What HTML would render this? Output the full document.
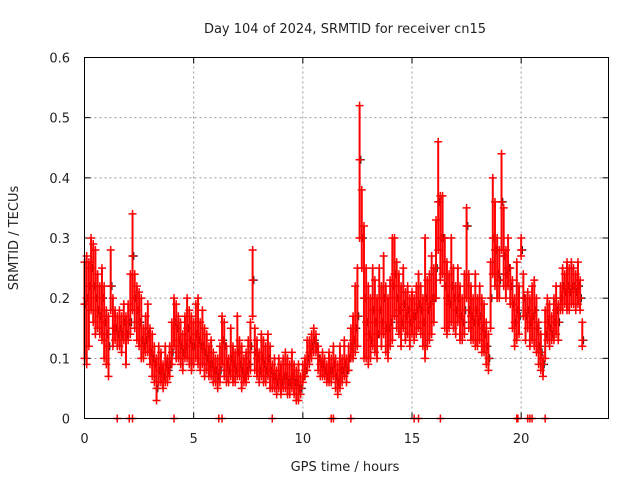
<!DOCTYPE html>
<html><head><meta charset="utf-8"><style>
body{margin:0;background:#fff;width:640px;height:480px;overflow:hidden}
svg text{font-family:"DejaVu Sans","Liberation Sans",sans-serif;font-size:13px;fill:#222}
</style></head><body>
<svg id="chart" width="640" height="480" xmlns="http://www.w3.org/2000/svg">
<text x="345" y="33" text-anchor="middle">Day 104 of 2024, SRMTID for receiver cn15</text>
<text x="345" y="471" text-anchor="middle">GPS time / hours</text>
<text transform="translate(18,238) rotate(-90)" text-anchor="middle">SRMTID / TECUs</text>
<g id="grid"></g>
<g id="ticks"></g>
<g id="marks"></g>
<rect x="84.5" y="57.5" width="524" height="361" fill="none" stroke="#000" stroke-width="1"/>
</svg>
<script>
const xTicks=[0,5,10,15,20];
const yTicks=[0,0.1,0.2,0.3,0.4,0.5,0.6];
const yTickLabels=["0","0.1","0.2","0.3","0.4","0.5","0.6"];
const times=[0,0.1,0.2,0.3,0.4,0.5,0.6,0.7,0.8,0.9,1,1.1,1.2,1.3,1.4,1.5,1.6,1.7,1.8,1.9,2,2.1,2.2,2.3,2.4,2.5,2.6,2.7,2.8,2.9,3,3.1,3.2,3.3,3.4,3.5,3.6,3.7,3.8,3.9,4,4.1,4.2,4.3,4.4,4.5,4.6,4.7,4.8,4.9,5,5.1,5.2,5.3,5.4,5.5,5.6,5.7,5.8,5.9,6,6.1,6.2,6.3,6.4,6.5,6.6,6.7,6.8,6.9,7,7.1,7.2,7.3,7.4,7.5,7.6,7.7,7.8,7.9,8,8.1,8.2,8.3,8.4,8.5,8.6,8.7,8.8,8.9,9,9.1,9.2,9.3,9.4,9.5,9.6,9.7,9.8,9.9,10,10.1,10.2,10.3,10.4,10.5,10.6,10.7,10.8,10.9,11,11.1,11.2,11.3,11.4,11.5,11.6,11.7,11.8,11.9,12,12.1,12.2,12.3,12.4,12.5,12.6,12.7,12.8,12.9,13,13.1,13.2,13.3,13.4,13.5,13.6,13.7,13.8,13.9,14,14.1,14.2,14.3,14.4,14.5,14.6,14.7,14.8,14.9,15,15.1,15.2,15.3,15.4,15.5,15.6,15.7,15.8,15.9,16,16.1,16.2,16.3,16.4,16.5,16.6,16.7,16.8,16.9,17,17.1,17.2,17.3,17.4,17.5,17.6,17.7,17.8,17.9,18,18.1,18.2,18.3,18.4,18.5,18.6,18.7,18.8,18.9,19,19.1,19.2,19.3,19.4,19.5,19.6,19.7,19.8,19.9,20,20.1,20.2,20.3,20.4,20.5,20.6,20.7,20.8,20.9,21,21.1,21.2,21.3,21.4,21.5,21.6,21.7,21.8,21.9,22,22.1,22.2,22.3,22.4,22.5,22.6,22.7,22.8];
const highs=[.26,.27,.26,.3,.29,.28,.24,.22,.25,.22,.18,.17,.28,.2,.18,.17,.18,.17,.19,.17,.19,.24,.34,.24,.22,.21,.2,.15,.17,.19,.15,.14,.12,.1,.12,.11,.09,.12,.1,.12,.16,.2,.19,.17,.16,.14,.17,.2,.18,.17,.16,.19,.2,.16,.18,.15,.14,.12,.13,.11,.1,.1,.12,.17,.16,.12,.1,.15,.12,.11,.17,.13,.12,.1,.11,.13,.16,.28,.15,.13,.11,.14,.13,.12,.14,.12,.09,.1,.08,.1,.09,.1,.11,.1,.09,.11,.09,.08,.09,.07,.09,.1,.13,.13,.14,.15,.14,.12,.1,.11,.1,.09,.11,.1,.12,.1,.09,.12,.1,.13,.1,.12,.15,.17,.22,.25,.52,.38,.32,.25,.22,.2,.25,.23,.2,.25,.22,.27,.22,.2,.23,.3,.3,.26,.24,.22,.25,.21,.22,.2,.21,.2,.22,.24,.22,.2,.3,.23,.24,.27,.25,.33,.46,.37,.37,.3,.26,.24,.3,.25,.22,.25,.22,.2,.24,.35,.24,.22,.2,.24,.2,.22,.2,.19,.16,.14,.26,.4,.36,.3,.28,.44,.35,.28,.3,.25,.23,.2,.26,.22,.3,.24,.2,.21,.2,.22,.23,.2,.16,.14,.1,.18,.2,.19,.17,.2,.22,.19,.22,.25,.24,.26,.25,.26,.25,.24,.26,.23,.16];
const mids=[.19,.2,.22,.25,.22,.2,.18,.17,.2,.16,.14,.12,.22,.15,.15,.14,.15,.14,.16,.14,.16,.16,.27,.2,.18,.16,.13,.12,.13,.14,.11,.1,.09,.05,.08,.08,.07,.09,.08,.09,.11,.16,.15,.13,.12,.11,.12,.15,.13,.12,.12,.14,.13,.12,.12,.11,.1,.09,.09,.08,.08,.07,.08,.13,.12,.09,.08,.1,.09,.08,.11,.09,.08,.07,.08,.09,.12,.23,.11,.1,.08,.1,.09,.08,.1,.08,.07,.07,.06,.07,.06,.07,.07,.06,.06,.07,.06,.06,.05,.05,.07,.08,.1,.11,.12,.13,.12,.1,.09,.09,.08,.07,.08,.08,.09,.07,.06,.08,.08,.09,.08,.1,.12,.13,.15,.17,.43,.3,.2,.16,.14,.13,.18,.16,.14,.18,.16,.2,.15,.15,.16,.22,.24,.2,.18,.16,.19,.17,.18,.16,.17,.17,.18,.19,.18,.16,.2,.18,.19,.2,.2,.25,.36,.3,.3,.22,.2,.19,.22,.2,.18,.2,.17,.16,.18,.32,.18,.17,.16,.18,.16,.17,.15,.14,.12,.1,.2,.3,.28,.24,.23,.36,.27,.24,.25,.22,.19,.16,.18,.17,.28,.2,.17,.18,.16,.17,.18,.15,.12,.11,.09,.14,.16,.15,.14,.16,.18,.16,.2,.22,.21,.22,.21,.22,.22,.21,.22,.2,.13];
const lows=[.1,.09,.12,.18,.16,.14,.15,.14,.13,.1,.09,.07,.18,.12,.13,.12,.12,.11,.13,.09,.13,.14,.18,.15,.13,.12,.1,.1,.11,.11,.09,.07,.06,.03,.06,.06,.05,.06,.06,.07,.09,.12,.1,.1,.09,.08,.1,.1,.09,.08,.09,.1,.09,.08,.09,.07,.08,.07,.07,.06,.06,.05,.06,.09,.07,.06,.06,.07,.06,.06,.07,.07,.05,.06,.06,.07,.08,.17,.08,.07,.06,.07,.06,.06,.07,.05,.05,.05,.04,.05,.04,.05,.05,.04,.04,.05,.04,.03,.03,.04,.06,.07,.08,.09,.1,.11,.11,.08,.07,.07,.07,.06,.06,.06,.07,.05,.04,.05,.06,.07,.06,.08,.1,.1,.11,.12,.3,.25,.1,.1,.09,.1,.12,.11,.1,.14,.12,.14,.11,.1,.12,.13,.17,.15,.14,.12,.15,.13,.14,.12,.14,.13,.14,.15,.14,.12,.1,.12,.13,.14,.16,.2,.28,.23,.24,.15,.14,.15,.16,.15,.14,.16,.13,.13,.14,.2,.15,.13,.13,.12,.12,.13,.11,.11,.09,.08,.15,.24,.22,.2,.2,.28,.22,.2,.22,.19,.15,.12,.13,.14,.27,.17,.13,.15,.12,.13,.12,.11,.09,.08,.07,.1,.13,.12,.13,.13,.14,.13,.18,.18,.19,.18,.18,.19,.19,.18,.19,.18,.12];
const zeroTimes=[1.5,2.05,2.2,4.1,6.15,6.3,8.6,11.3,11.4,12.2,15.1,15.3,16.3,19.8,19.85,20.3,20.4,20.5,21.1];

const X0=84.5,X1=608.5,Y0=418.5,Y1=57.5;
const xs=t=>X0+t/24*(X1-X0);
const ys=v=>Y0-v/0.6*(Y0-Y1);
const NS="http://www.w3.org/2000/svg";
function mk(tag,attrs,parent){const e=document.createElementNS(NS,tag);for(const k in attrs)e.setAttribute(k,attrs[k]);parent.appendChild(e);return e;}
const grid=document.getElementById('grid'),ticks=document.getElementById('ticks'),marks=document.getElementById('marks');
yTicks.forEach((v,i)=>{const y=ys(v);
 if(i>0&&i<yTicks.length-1){const g=mk('line',{x1:X0,x2:X1,y1:y,y2:y,stroke:'#999','stroke-dasharray':'2,3','stroke-width':1},grid);
 
 }
 mk('line',{x1:X0,x2:X0+6,y1:y,y2:y,stroke:'#000'},ticks);
 mk('line',{x1:X1,x2:X1-6,y1:y,y2:y,stroke:'#000'},ticks);
 const t=mk('text',{x:70,y:y+5,'text-anchor':'end'},ticks);t.textContent=yTickLabels[i];
 
 
});
xTicks.forEach((v,i)=>{const x=xs(v);
 if(i>0){const g=mk('line',{x1:x,x2:x,y1:Y0,y2:Y1,stroke:'#999','stroke-dasharray':'2,3','stroke-width':1},grid);
 
 }
 mk('line',{x1:x,x2:x,y1:Y0,y2:Y0-6,stroke:'#000'},ticks);
 mk('line',{x1:x,x2:x,y1:Y1,y2:Y1+6,stroke:'#000'},ticks);
 const t=mk('text',{x:x,y:443,'text-anchor':'middle'},ticks);t.textContent=String(v);
 
 
});
function cross(t,v,color){const x=xs(t),y=ys(v);
 const p=mk('path',{d:`M${x-4} ${y}h8M${x} ${y-4}v8`,stroke:color,'stroke-width':1.5,fill:'none'},marks);
 
 }
times.forEach((t,i)=>{cross(t+0.05,mids[i],'#222');});
times.forEach((t,i)=>{
 const l=mk('line',{x1:xs(t),x2:xs(t),y1:ys(highs[i]),y2:ys(lows[i]),stroke:'#f00','stroke-width':2},marks);
 
 
 cross(t,highs[i],'#f00');cross(t,mids[i],'#f00');cross(t,lows[i],'#f00');
});
zeroTimes.forEach(t=>cross(t,0,'#f00'));
</script>
</body></html>
